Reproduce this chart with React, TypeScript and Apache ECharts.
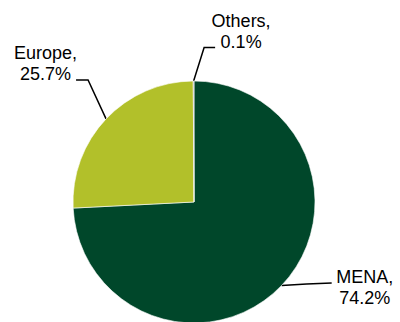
import React, { useEffect, useRef } from "react";
import * as echarts from "echarts";

const categories = ["MENA", "Europe", "Others"];
const shares = [74.2, 25.7, 0.1];
const colors = ["#00472A", "#B2C02A", "#8C8C8C"];

// label placement offsets relative to the library-computed anchor point on the slice edge
const labelOffsets: Record<number, { label: number[]; elbow: number[]; end: number[] }> = {
  0: { label: [83, 2.5], elbow: [25, -1.3], end: [50, -2.5] },
  1: { label: [-60.5, -55], elbow: [-18, -39], end: [-30, -39] },
  2: { label: [47.5, -50], elbow: [10.5, -33.5], end: [21.5, -33.5] },
};

export default function App() {
  const ref = useRef<HTMLDivElement>(null);
  useEffect(() => {
    if (!ref.current) return;
    const chart = echarts.init(ref.current, null, { renderer: "svg" });
    chart.setOption({
      animation: false,
      backgroundColor: "#ffffff",
      series: [
        {
          type: "pie",
          center: [194, 202],
          radius: 121,
          startAngle: 90,
          clockwise: true,
          avoidLabelOverlap: false,
          minShowLabelAngle: 0,
          itemStyle: { borderColor: "#ffffff", borderWidth: 0.6 },
          label: {
            show: true,
            position: "outside",
            formatter: (p: any) => `${p.name},\n${p.value}%`,
            fontFamily: "'Liberation Sans', Arial, sans-serif",
            fontSize: 18,
            lineHeight: 21,
            color: "#000000",
            align: "center",
          },
          labelLine: {
            show: true,
            length: 20,
            length2: 10,
            lineStyle: { color: "#000000", width: 1.5 },
          },
          labelLayout: (params: any) => {
            const o = labelOffsets[params.dataIndex];
            const pts = params.labelLinePoints;
            if (!o || !pts || !pts[0]) return {};
            const p0 = pts[0];
            return {
              x: p0[0] + o.label[0],
              y: p0[1] + o.label[1],
              align: "center",
              verticalAlign: "middle",
              labelLinePoints: [
                [p0[0], p0[1]],
                [p0[0] + o.elbow[0], p0[1] + o.elbow[1]],
                [p0[0] + o.end[0], p0[1] + o.end[1]],
              ],
            };
          },
          data: categories.map((name, i) => ({
            name,
            value: shares[i],
            itemStyle: { color: colors[i] },
          })),
        },
      ],
    });
    return () => chart.dispose();
  }, []);
  return <div ref={ref} style={{ width: 400, height: 322, position: "absolute", left: 0, top: 0 }} />;
}
